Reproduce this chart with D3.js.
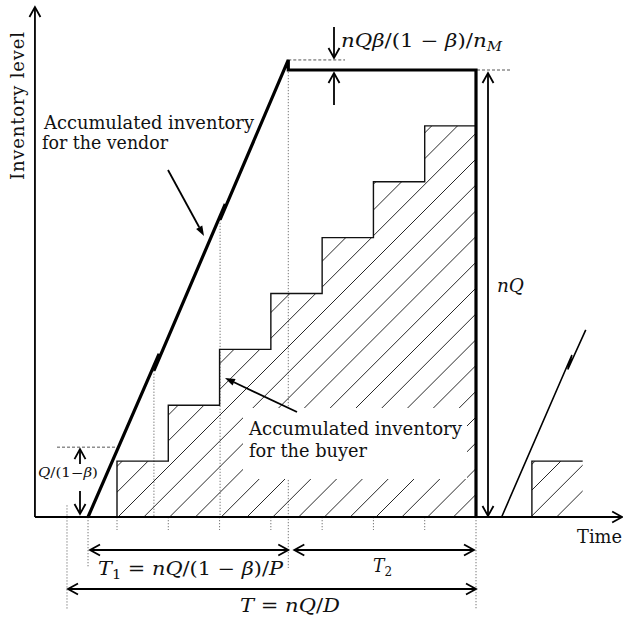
<!DOCTYPE html>
<html>
<head>
<meta charset="utf-8">
<script src="https://cdn.jsdelivr.net/npm/d3@7"></script>
<style>
  body { margin: 0; background: #fff; }
  svg { display: block; }
  text { font-family: "DejaVu Serif", serif; fill: #111; }
</style>
</head>
<body>
<svg id="svg" width="623" height="617"></svg>
<script>
// time is counted in buyer delivery intervals, inventory in units of Q
const deliveryTimes = [0, 1, 2, 3, 4, 5, 6];
const buyerLevels = [1, 2, 3, 4, 5, 6, 7];
const cycleEnd = 7;
const cycleStart = -0.975;
const vendorPath = [[-0.565, 0], [0.82, 2.92], [0.72, 2.62], [2.11, 5.6], [2.01, 5.32],
                    [3.34, 8.18], [3.34, 8], [7, 8], [7, 0]];
const nextVendor = [[7.5, 0], [8.87, 2.9], [8.79, 2.64], [9.14, 3.35]];
const nextDelivery = [8.09, 9.08];
const nextLevel = 1;
const firstLot = 1.25;     // Q/(1-β)
const vendorMax = 8.18;
const vendorFlat = 8;

const svg = d3.select("#svg");

const x = d3.scaleLinear().domain([0, 7]).range([117, 476]);
const y = d3.scaleLinear().domain([0, 8]).range([517, 70]);

const prodStart = vendorPath[0][0];
const prodEnd = vendorPath[5][0];
const line = d3.line().x(d => x(d[0])).y(d => y(d[1]));

// buyer stairs
const stairs = [[deliveryTimes[0], 0]];
deliveryTimes.forEach((t, i) => {
  const tNext = i < deliveryTimes.length - 1 ? deliveryTimes[i + 1] : cycleEnd;
  stairs.push([t, buyerLevels[i]], [tNext, buyerLevels[i]]);
});
const stock = stairs.concat([[cycleEnd, 0]]);
const nextBox = [[nextDelivery[0], 0], [nextDelivery[0], nextLevel], [nextDelivery[1], nextLevel], [nextDelivery[1], 0]];

// dotted guides
const guides = svg.append("g")
  .attr("stroke", "#777").attr("stroke-width", 1).attr("stroke-dasharray", "1.3,1.7");
const guide = (t, y1, y2) => guides.append("line")
  .attr("x1", x(t)).attr("x2", x(t)).attr("y1", y1).attr("y2", y2);
guide(cycleStart, y(0.21), 610);
guide(prodStart, y(0), 568);
deliveryTimes.forEach(t => guide(t, y(0), 530));
guide(vendorPath[2][0], y(vendorPath[2][1]), y(0));
guide(vendorPath[4][0], y(vendorPath[4][1]), y(0));
guide(prodEnd, y(vendorMax), 568);
guide(cycleEnd, y(0), 610);

// hatching, clipped to the buyer's stock
const defs = svg.append("defs");
defs.append("clipPath").attr("id", "stock")
  .append("path").attr("d", line(stock) + "Z " + line(nextBox) + "Z");

const hs = 25.8;
const x0 = x(0) + 1;
svg.append("g")
  .attr("clip-path", "url(#stock)")
  .attr("stroke", "#111").attr("stroke-width", 0.9)
  .selectAll("line")
  .data(d3.range(-20, 30))
  .join("line")
  .attr("x1", k => x0 + k * hs).attr("y1", y(0))
  .attr("x2", k => x0 + k * hs + 500).attr("y2", y(0) - 500);

// blank area behind the buyer label
svg.append("rect")
  .attr("x", 243).attr("y", 408).attr("width", 224).attr("height", 71)
  .attr("fill", "#fff");

svg.append("path")
  .attr("d", line(stairs))
  .attr("fill", "none").attr("stroke", "#111").attr("stroke-width", 1.4);
svg.append("path")
  .attr("d", line(nextBox.slice(0, 3)))
  .attr("fill", "none").attr("stroke", "#111").attr("stroke-width", 1.4);

// dashed references
const dashed = svg.append("g")
  .attr("stroke", "#555").attr("stroke-width", 1).attr("stroke-dasharray", "3,2");
dashed.append("line").attr("x1", x(prodEnd)).attr("x2", 345).attr("y1", y(vendorMax)).attr("y2", y(vendorMax));
dashed.append("line").attr("x1", x(cycleEnd) + 1).attr("x2", 512).attr("y1", y(vendorFlat)).attr("y2", y(vendorFlat));
dashed.append("line").attr("x1", 57).attr("x2", 118).attr("y1", y(firstLot)).attr("y2", y(firstLot));

// vendor inventory
svg.append("path")
  .attr("d", line(vendorPath))
  .attr("fill", "none").attr("stroke", "#000").attr("stroke-width", 3.2)
  .attr("stroke-linejoin", "miter");
svg.append("path")
  .attr("d", line(nextVendor))
  .attr("fill", "none").attr("stroke", "#000").attr("stroke-width", 1.6);

// arrows
function chevron(g, x1, y1, x2, y2, len = 10, half = 5.5) {
  const a = Math.atan2(y2 - y1, x2 - x1);
  const p = s => [x2 - len * Math.cos(a) + s * half * Math.sin(a), y2 - len * Math.sin(a) - s * half * Math.cos(a)];
  g.append("path").attr("d", `M${p(1)} L${x2},${y2} L${p(-1)}`).attr("fill", "none");
}
function arrow(x1, y1, x2, y2, both) {
  const g = svg.append("g").attr("stroke", "#000").attr("stroke-width", 1.8);
  g.append("line").attr("x1", x1).attr("y1", y1).attr("x2", x2).attr("y2", y2);
  chevron(g, x1, y1, x2, y2);
  if (both) chevron(g, x2, y2, x1, y1);
}
function pointer(x1, y1, x2, y2) {
  const g = svg.append("g");
  const a = Math.atan2(y2 - y1, x2 - x1);
  const len = 10, half = 3.5;
  const bx = x2 - len * Math.cos(a), by = y2 - len * Math.sin(a);
  g.append("line").attr("x1", x1).attr("y1", y1).attr("x2", bx).attr("y2", by)
    .attr("stroke", "#000").attr("stroke-width", 1.8);
  g.append("path")
    .attr("d", `M${x2},${y2} L${bx + half * Math.sin(a)},${by - half * Math.cos(a)} L${bx - half * Math.sin(a)},${by + half * Math.cos(a)}Z`)
    .attr("fill", "#000");
}

// axes
arrow(x(-1.6), y(0), x(9.85), y(0));
arrow(x(-1.6), y(0), x(-1.6), 7);

arrow(334, 27, 334, y(vendorMax) - 2);
arrow(334, 105, 334, y(vendorFlat) + 3);
arrow(488, y(vendorFlat) + 3, 488, y(0) - 1, true);
arrow(80, 464, 80, y(firstLot) + 2);
arrow(80, 491, 80, y(0) - 3);
arrow(x(prodStart) + 2, 550, x(prodEnd), 550, true);
arrow(x(prodEnd) + 6, 550, x(cycleEnd) - 2, 550, true);
arrow(x(cycleStart) + 1, 589, x(cycleEnd), 589, true);

pointer(168, 170, 204, 236);
pointer(297, 412, 225, 378);

// labels
function label(px, py, parts, size, len) {
  const t = svg.append("text").attr("x", px).attr("y", py).attr("font-size", size);
  parts.forEach(([s, it, sub]) => {
    const ts = t.append("tspan").text(s);
    if (it) ts.attr("font-style", "italic");
    if (sub === 1) ts.attr("font-size", size * 0.7).attr("dy", 4);
    if (sub === -1) ts.attr("dy", -4);
  });
  if (len) t.attr("textLength", len).attr("lengthAdjust", "spacingAndGlyphs");
  return t;
}

svg.append("text")
  .attr("transform", "translate(24,180) rotate(-90)")
  .attr("font-size", 18)
  .attr("textLength", 148).attr("lengthAdjust", "spacing")
  .text("Inventory level");

label(44, 129, [["Accumulated inventory"]], 18, 210);
label(42, 149, [["for the vendor"]], 18, 126);
label(249, 435, [["Accumulated inventory"]], 18, 213);
label(249, 457, [["for the buyer"]], 18, 118);
label(577, 543, [["Time"]], 18, 45);
label(497, 292, [["nQ", true]], 18, 27);
label(341, 47, [["nQβ", true], ["/(1 − "], ["β", true], [")/"], ["n", true], ["M", true, 1]], 18, 161);
label(38, 477, [["Q", true], ["/(1−"], ["β", true], [")"]], 12, 60);
label(98, 575, [["T", true], ["1", false, 1], [" = ", false, -1], ["nQ", true], ["/(1 − "], ["β", true], [")/"], ["P", true]], 18, 185);
label(373, 572, [["T", true], ["2", false, 1]], 18, 19);
label(240, 612, [["T", true], [" = "], ["nQ", true], ["/"], ["D", true]], 18, 100);
</script>
</body>
</html>
